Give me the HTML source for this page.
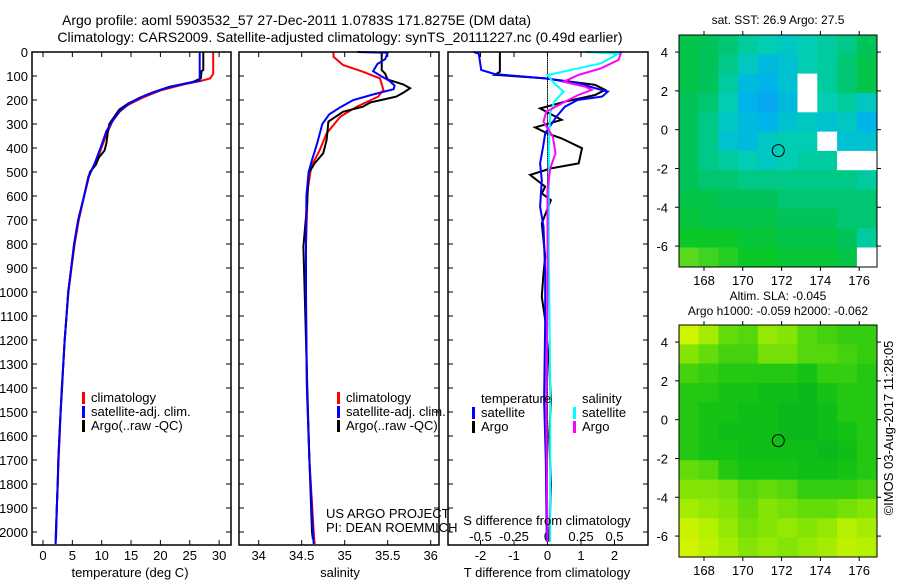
<!DOCTYPE html>
<html><head><meta charset="utf-8"><style>
html,body{margin:0;padding:0;background:#fff}
svg{display:block;font-family:"Liberation Sans",sans-serif}
</style></head><body>
<svg id="c" width="900" height="580" viewBox="0 0 900 580">
<text x="62" y="25" font-size="14" text-anchor="start">Argo profile: aoml 5903532_57 27-Dec-2011 1.0783S 171.8275E (DM data)</text>
<text x="340" y="42" font-size="14" text-anchor="middle">Climatology: CARS2009. Satellite-adjusted climatology: synTS_20111227.nc (0.49d earlier)</text>
</svg>
<script>
// ---- data ----
const tempArgo=[[0,27.3],[75,27.3],[80,27.0],[110,26.9],[125,25.5],[145,21.5],[170,18.5],[190,16.5],[215,14.5],[240,13],[275,12],[300,11.3],[340,11.0],[380,10.8],[410,10.5],[440,9.5],[470,9.0],[500,8.0],[520,7.8],[600,7.0],[700,6.0],[800,5.3],[900,4.8],[1000,4.3],[1100,4.0],[1200,3.7],[1300,3.45],[1400,3.25],[1500,3.0],[1600,2.8],[1700,2.6],[1800,2.5],[1900,2.35],[2000,2.25],[2030,2.2]];
const tempClim=[[0,29.0],[90,29.0],[110,28.5],[120,27],[135,24],[160,20],[190,17],[220,14.5],[250,13],[290,11.8],[350,10.7],[430,9.5],[480,8.5],[520,7.7],[600,7.0],[700,6.1],[800,5.4],[900,4.85],[1000,4.35],[1100,4.0],[1200,3.7],[1300,3.45],[1400,3.2],[1500,3.0],[1600,2.85],[1700,2.65],[1800,2.5],[1900,2.35],[2000,2.2],[2050,2.15]];
const tempSat=[[0,26.7],[120,26.7],[130,24.5],[150,21],[180,17.5],[210,15],[240,13.3],[280,12],[330,10.8],[400,9.8],[470,8.7],[520,7.8],[600,7.0],[700,6.0],[800,5.3],[900,4.8],[1000,4.3],[1100,4.0],[1200,3.7],[1300,3.45],[1400,3.2],[1500,3.0],[1600,2.8],[1700,2.6],[1800,2.5],[1900,2.35],[2000,2.2],[2050,2.15]];
const salArgo=[[0,35.43],[75,35.43],[90,35.47],[115,35.5],[135,35.68],[151,35.76],[170,35.68],[186,35.6],[210,35.3],[228,35.21],[249,34.98],[290,34.81],[367,34.79],[422,34.75],[464,34.65],[506,34.58],[644,34.56],[811,34.52],[1061,34.54],[1400,34.565],[1700,34.59],[2000,34.62],[2030,34.63]];
const salClim=[[0,34.87],[20,34.87],[54,34.98],[82,35.21],[110,35.41],[158,35.45],[186,35.39],[228,35.14],[269,34.95],[339,34.79],[408,34.71],[478,34.61],[575,34.57],[800,34.55],[1100,34.55],[1400,34.56],[1700,34.59],[2000,34.64],[2050,34.65]];
const salSat=[[0,35.15],[3,35.5],[30,35.47],[50,35.38],[80,35.33],[100,35.42],[120,35.52],[140,35.58],[155,35.57],[175,35.35],[200,35.1],[230,34.95],[260,34.82],[300,34.74],[380,34.68],[450,34.62],[500,34.58],[600,34.555],[800,34.55],[1000,34.55],[1400,34.56],[1700,34.59],[2000,34.63],[2050,34.64]];
const dTSat=[[0,-2.2],[7,-2.05],[75,-1.98],[92,-1.57],[110,-0.07],[131,0.9],[165,1.8],[186,1.63],[200,0.9],[228,0.52],[269,0.27],[339,-0.07],[394,-0.13],[464,-0.22],[533,-0.17],[644,-0.22],[728,-0.12],[922,-0.07],[1117,-0.07],[1450,-0.1],[1700,-0.05],[2040,-0.02]];
const dTArgo=[[0,-1.42],[82,-1.42],[95,-1.57],[110,-0.07],[137,1.42],[158,1.72],[179,1.42],[207,0.52],[235,-0.22],[283,0.42],[314,-0.37],[339,0],[360,0.42],[401,1.03],[464,0.93],[485,0.1],[512,-0.52],[561,-0.07],[589,-0.17],[617,0.1],[714,-0.17],[853,-0.07],[922,-0.12],[1019,-0.17],[1117,-0.07],[1300,0.05],[1450,0.1],[1600,0.05],[1800,0.1],[2040,0.05]];
const dSSat=[[0,0.28],[7,0.53],[47,0.40],[68,0.23],[96,0],[131,0.05],[165,0.12],[207,0.05],[256,0.02],[400,0.01],[800,0.01],[1400,0.02],[2040,0.02]];
const dSArgo=[[0,0.55],[33,0.53],[68,0.40],[96,0.23],[124,0.12],[144,0.28],[158,0.33],[179,0.23],[207,0.13],[249,-0.01],[290,-0.03],[353,0.04],[422,0.06],[485,0.02],[575,0.0],[1000,0.0],[1500,-0.01],[2040,0.0]];
const depthTicks=[0,100,200,300,400,500,600,700,800,900,1000,1100,1200,1300,1400,1500,1600,1700,1800,1900,2000];
const tempTicks=[0,5,10,15,20,25,30];
const salTicks=[34,34.5,35,35.5,36];
const salTickLabels=["34","34.5","35","35.5","36"];
const dTTicks=[-2,-1,0,1,2];
const dSTicks=[-0.5,-0.25,0,0.25,0.5];
const dSTickLabels=["-0.5","-0.25","0","0.25","0.5"];
const lonTicks=[168,170,172,174,176];
const latTicks=[4,2,0,-2,-4,-6];
const sstGrid=[
[0.4,0.45,0.5,0.6,0.65,0.7,0.65,0.6,0.55,0.45],
[0.4,0.45,0.55,0.7,0.8,0.75,0.65,0.6,0.5,0.4],
[0.4,0.45,0.6,0.8,0.85,0.75,null,0.6,0.5,0.4],
[0.45,0.5,0.65,0.85,0.9,0.8,null,0.65,0.6,0.7],
[0.45,0.55,0.7,0.8,0.85,0.75,0.7,0.75,0.7,0.85],
[0.45,0.55,0.75,0.8,0.7,0.65,0.65,null,0.75,0.75],
[0.45,0.55,0.6,0.65,0.7,0.65,0.6,0.6,null,null],
[0.45,0.5,0.5,0.55,0.55,0.55,0.55,0.55,0.55,0.6],
[0.4,0.4,0.45,0.45,0.45,0.5,0.5,0.5,0.5,0.5],
[0.35,0.4,0.4,0.4,0.4,0.45,0.45,0.45,0.5,0.5],
[0.3,0.3,0.3,0.35,0.35,0.4,0.4,0.4,0.45,0.6],
[0.15,0.2,0.25,0.3,0.3,0.35,0.35,0.35,0.4,null]];
const slaGrid=[
[0.9,0.7,0.5,0.45,0.65,0.6,0.45,0.4,0.35,0.35],
[0.6,0.5,0.4,0.4,0.55,0.55,0.45,0.45,0.4,0.35],
[0.4,0.35,0.3,0.3,0.3,0.3,0.25,0.35,0.35,0.3],
[0.3,0.3,0.25,0.25,0.2,0.2,0.15,0.25,0.3,0.3],
[0.3,0.25,0.25,0.2,0.2,0.15,0.15,0.2,0.3,0.3],
[0.3,0.25,0.2,0.2,0.2,0.15,0.15,0.2,0.25,0.3],
[0.3,0.25,0.25,0.2,0.2,0.2,0.2,0.15,0.2,0.3],
[0.5,0.45,0.3,0.25,0.25,0.25,0.2,0.2,0.25,0.3],
[0.6,0.6,0.55,0.45,0.5,0.45,0.35,0.35,0.35,0.4],
[0.7,0.65,0.6,0.5,0.6,0.55,0.5,0.5,0.55,0.6],
[0.85,0.75,0.65,0.55,0.6,0.65,0.6,0.65,0.75,0.7],
[0.9,0.8,0.7,0.6,0.65,0.6,0.65,0.7,0.8,0.75]];
const argoLon=171.83, argoLat=-1.08;

// ---- drawing ----
const NS="http://www.w3.org/2000/svg";
const svg=document.getElementById('c');
function el(tag,attrs,parent){const e=document.createElementNS(NS,tag);for(const k in attrs)e.setAttribute(k,attrs[k]);(parent||svg).appendChild(e);return e;}
function txt(x,y,s,size,anchor,parent){const t=el('text',{x:x,y:y,'font-size':size,'text-anchor':anchor||'middle'},parent);t.textContent=s;return t;}
const TOP=52,BOT=545,DS=0.24;
const yD=d=>TOP+d*DS;
const xT=t=>43+t*5.87;
const xS=s=>258.7+(s-34)*86;
const xdT=v=>547.5+v*33.5;
const xdS=v=>547.5+v*134;

function panel(name,x0,x1){
  const g=el('g',{});
  
  
  for(const d of depthTicks){const y=yD(d);el('line',{x1:x0,x2:x0+5,y1:y,y2:y,stroke:'#000'},g);el('line',{x1:x1-5,x2:x1,y1:y,y2:y,stroke:'#000'},g);}
  return g;
}
function frame(g,x0,x1){el('rect',{x:x0,y:TOP,width:x1-x0,height:BOT-TOP,fill:'none',stroke:'#000','stroke-width':1.5},g);}
function line(g,data,fx,color,name,fy){
  const p=el('polyline',{points:data.map(d=>fx(d[1]).toFixed(1)+','+(fy||yD)(d[0]).toFixed(1)).join(' '),fill:'none',stroke:color,'stroke-width':2},g);
  
  
}
function xticks(g,ticks,fx,labels,ly){
  ticks.forEach((t,i)=>{const x=fx(t);el('line',{x1:x,x2:x,y1:TOP,y2:TOP+5,stroke:'#000'},g);el('line',{x1:x,x2:x,y1:BOT-5,y2:BOT,stroke:'#000'},g);
    const tl=txt(x,ly,labels?labels[i]:String(t),13,'middle',g);
    
    });
}
function legendEntry(g,x,y,color,label){
  el('rect',{x:x,y:y-10,width:3,height:12,fill:color},g);
  const t=txt(x+9,y,label,13,'start',g);
  
  
}
// panel 1
const p1=panel('temperature-panel',32,231);
for(const d of depthTicks){const t=txt(28,yD(d)+5,String(d),13,'end',p1);
  
  }
xticks(p1,tempTicks,xT,null,560);
line(p1,tempClim,xT,'#f00','temp-climatology-line');
line(p1,tempArgo,xT,'#000','temp-argo-line');
line(p1,tempSat,xT,'#00f','temp-satellite-line');
frame(p1,32,231);
txt(130,577,'temperature (deg C)',13,'middle',p1);
legendEntry(p1,82,402,'#f00','climatology');
legendEntry(p1,82,416,'#00f','satellite-adj. clim.');
legendEntry(p1,82,430,'#000','Argo(..raw -QC)');
// panel 2
const p2=panel('salinity-panel',239,439);
xticks(p2,salTicks,xS,salTickLabels,560);
line(p2,salClim,xS,'#f00','sal-climatology-line');
line(p2,salArgo,xS,'#000','sal-argo-line');
line(p2,salSat,xS,'#00f','sal-satellite-line');
frame(p2,239,439);
txt(340,577,'salinity',13,'middle',p2);
legendEntry(p2,337,402,'#f00','climatology');
legendEntry(p2,337,416,'#00f','satellite-adj. clim.');
legendEntry(p2,337,430,'#000','Argo(..raw -QC)');
txt(326,518,'US ARGO PROJECT',13,'start',p2);
txt(326,532,'PI: DEAN ROEMMICH',13,'start',p2);
// panel 3
const p3=panel('difference-panel',448,648);
xticks(p3,dTTicks,xdT,null,560);
dSTicks.forEach((t,i)=>{const l=txt(xdS(t),541,dSTickLabels[i],13,'middle',p3);
  
  });
for(let d=0;d<2050;d+=8)el('line',{x1:547.5,x2:547.5,y1:yD(d),y2:yD(d)+1.5,stroke:'#000','stroke-width':1},p3);
line(p3,dTArgo,xdT,'#000','dT-argo-line');
line(p3,dTSat,xdT,'#00f','dT-satellite-line');
line(p3,dSSat,xdS,'#0ff','dS-satellite-line');
line(p3,dSArgo,xdS,'#f0f','dS-argo-line');
frame(p3,448,648);
txt(547,525,'S difference from climatology',13,'middle',p3);
txt(547,577,'T difference from climatology',13,'middle',p3);
txt(481,403,'temperature',13,'start',p3);
txt(582,403,'salinity',13,'start',p3);
legendEntry(p3,472,417,'#00f','satellite');
legendEntry(p3,472,431,'#000','Argo');
legendEntry(p3,573,417,'#0ff','satellite');
legendEntry(p3,573,431,'#f0f','Argo');
// maps
const lonX=l=>704+(l-168)*19.4;
const LON0=166.7, LAT0=4.88, CELLD=(176.9-166.7)/10, CELLLAT=(4.88+7.07)/12;
function lerp(a,b,t){return a.map((v,i)=>Math.round(v+(b[i]-v)*t));}
function cmap(stops,v){for(let i=0;i<stops.length-1;i++){if(v<=stops[i+1][0]){const t=(v-stops[i][0])/(stops[i+1][0]-stops[i][0]);const c=lerp(stops[i][1],stops[i+1][1],Math.max(0,t));return 'rgb('+c.join(',')+')';}}const c=stops[stops.length-1][1];return 'rgb('+c.join(',')+')';}
const sstStops=[[0,[170,235,20]],[0.3,[10,200,40]],[0.45,[0,195,90]],[0.65,[0,205,180]],[0.85,[0,180,235]],[1,[20,140,255]]];
const slaStops=[[0,[0,170,40]],[0.25,[20,195,20]],[0.5,[100,220,10]],[0.75,[180,240,0]],[1,[230,245,0]]];
function map(name,top,grid,stops,title1,title2){
  const g=el('g',{});
  
  
  const left=679,right=877,bottom=top+232;
  const latY=l=>top+(LAT0-l)*19.4;
  grid.forEach((row,r)=>row.forEach((v,c)=>{
    const x=lonX(LON0+c*CELLD), y=latY(LAT0-r*CELLLAT);
    const w=lonX(LON0+(c+1)*CELLD)-x, h=latY(LAT0-(r+1)*CELLLAT)-y;
    const cell=el('rect',{x:x.toFixed(1),y:y.toFixed(1),width:(w+0.6).toFixed(1),height:(h+0.6).toFixed(1),fill:v===null?'#fff':cmap(stops,v)},g);
    
    
  }));
  el('rect',{x:left,y:top,width:right-left,height:bottom-top,fill:'none',stroke:'#000','stroke-width':1},g);
  for(const l of lonTicks){const x=lonX(l);el('line',{x1:x,x2:x,y1:top-4,y2:top,stroke:'#000'},g);el('line',{x1:x,x2:x,y1:bottom,y2:bottom+4,stroke:'#000'},g);
    const t=txt(x,bottom+18,String(l),13,'middle',g);}
  for(const l of latTicks){const y=latY(l);el('line',{x1:left-4,x2:left,y1:y,y2:y,stroke:'#000'},g);el('line',{x1:right,x2:right+4,y1:y,y2:y,stroke:'#000'},g);
    const t=txt(668,y+5,String(l),13,'end',g);}
  const circ=el('circle',{cx:lonX(argoLon),cy:latY(argoLat),r:6,fill:'none',stroke:'#000','stroke-width':1},g);
  
  
  if(title2){txt(778,top-25,title1,12,'middle',g);txt(778,top-10,title2,12,'middle',g);}
  else txt(778,top-11,title1,12,'middle',g);
}
map('sst-map',35,sstGrid,sstStops,'sat. SST: 26.9 Argo: 27.5');
map('sla-map',325,slaGrid,slaStops,'Altim. SLA: -0.045','Argo h1000: -0.059 h2000: -0.062');
const cr=txt(0,0,'©IMOS 03-Aug-2017 11:28:05',13,'middle');
cr.setAttribute('transform','translate(893,428) rotate(-90)');


</script>
</body></html>
